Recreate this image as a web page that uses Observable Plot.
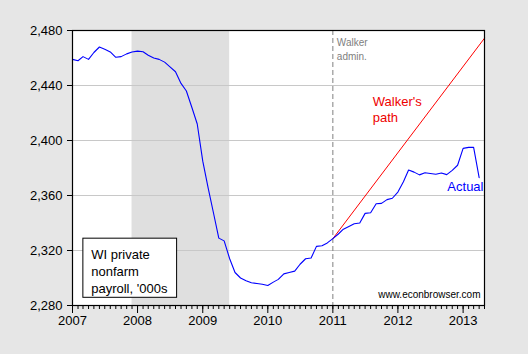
<!DOCTYPE html>
<html><head><meta charset="utf-8">
<script src="https://cdn.jsdelivr.net/npm/d3@7"></script>
<script src="https://cdn.jsdelivr.net/npm/@observablehq/plot@0.6"></script>
<style>
body{margin:0;background:#e6e6e6;}
#chart svg{display:block;}
</style>
</head><body><div id="chart"></div>
<script>
// ---- data ----
const startMonth = "2007-01";
const actual = [
  2459, 2458, 2461, 2459, 2464, 2468, 2466.4, 2464.4, 2460.5, 2461, 2463, 2464.4,
  2465, 2464.5, 2462, 2460, 2459, 2457, 2453.5, 2450, 2441.5, 2436, 2424, 2412,
  2385, 2365, 2348, 2329, 2327, 2314, 2304, 2300, 2298, 2296.5, 2296, 2295.5,
  2294.5, 2297, 2299, 2303, 2304, 2305, 2310, 2314, 2314.5, 2323, 2323.5, 2325.5,
  2328.6, 2332, 2335.5, 2337.5, 2339.5, 2340, 2347, 2347.5, 2354, 2354.3, 2357, 2358,
  2362.5, 2370, 2378.5, 2377, 2375, 2376.5, 2376, 2375.5, 2376.4, 2375.2, 2378.3, 2382,
  2394.3, 2395, 2395, 2373
];
const walkerDates = ["2011-01", "2013-05"];
const walkerValues = [2328.6, 2474.4];
const recession = ["2007-12", "2009-06"];
const walkerStart = "2011-01";
const yTicks = [2280, 2320, 2360, 2400, 2440, 2480];
const gridValues = [2320, 2360, 2400, 2440];
const yearTicks = ["2007", "2008", "2009", "2010", "2011", "2012", "2013"];
const xDomain = ["2007-01", "2013-05"];

// ---- build ----
const pm = d3.utcParse("%Y-%m");
const py = d3.utcParse("%Y");
const pd = d3.utcParse("%Y-%m-%d");
const start = pm(startMonth);
const actualData = actual.map((v, i) => ({date: d3.utcMonth.offset(start, i), value: v}));
const walkerData = walkerDates.map((d, i) => ({date: pm(d), value: walkerValues[i]}));
const years = yearTicks.map(py);
const months = d3.utcMonth.range(pm(xDomain[0]), d3.utcMonth.offset(pm(xDomain[1]), 1));
const fmt = d3.format(",");

const chart = Plot.plot({
  width: 528,
  height: 354,
  marginLeft: 72,
  marginRight: 44,
  marginTop: 30,
  marginBottom: 49,
  style: {fontFamily: "'Liberation Sans', Arial, sans-serif", fontSize: "13px", background: "#e6e6e6", color: "black"},
  x: {type: "utc", domain: xDomain.map(pm)},
  y: {domain: [yTicks[0], yTicks[yTicks.length - 1]]},
  marks: [
    Plot.frame({fill: "white", stroke: null}),
    Plot.rect([recession], {x1: d => pm(d[0]), x2: d => pm(d[1]), y1: yTicks[0], y2: yTicks[yTicks.length - 1], fill: "#dfdfdf"}),
    Plot.ruleY(gridValues, {stroke: "#c8c8c8", strokeWidth: 1}),
    Plot.ruleX([pm(walkerStart)], {stroke: "#808080", strokeDasharray: "5,3", strokeWidth: 1}),
    Plot.line(walkerData, {x: "date", y: "value", stroke: "#ff0000", strokeWidth: 1}),
    Plot.line(actualData, {x: "date", y: "value", stroke: "#0000ff", strokeWidth: 1.1}),
    // legend box
    Plot.rect([0], {x1: pd("2007-03-03"), x2: pd("2008-08-10"), y1: 2285.6, y2: 2328.6, fill: "white", stroke: "black", strokeWidth: 1}),
    Plot.text(["WI private\nnonfarm\npayroll, '000s"], {x: pd("2007-04-16"), y: 2322.5, text: d => d, textAnchor: "start", lineAnchor: "top", lineHeight: 1.3, fontSize: 13, fill: "black"}),
    // annotations
    Plot.text(["Walker\nadmin."], {x: pm(walkerStart), frameAnchor: "top", text: d => d, dx: 4, dy: 6, textAnchor: "start", lineAnchor: "top", lineHeight: 1.4, fontSize: 10, fill: "#808080", style: "letter-spacing:1px"}),
    Plot.text(["Walker's\npath"], {x: pd("2011-08-13"), y: 2433, text: d => d, textAnchor: "start", lineAnchor: "top", lineHeight: 1.2, fontSize: 13, fill: "#ee0000"}),
    Plot.text(["Actual"], {x: pm(xDomain[1]), y: 2369.8, text: d => d, dx: -1, textAnchor: "end", lineAnchor: "top", fontSize: 13, fill: "#0000ff"}),
    Plot.text(["www.econbrowser.com"], {x: pm(xDomain[1]), frameAnchor: "bottom", text: d => d, dx: -4, dy: -8, textAnchor: "end", lineAnchor: "bottom", fontSize: 10, fill: "black", style: "letter-spacing:0.8px"}),
    Plot.frame({stroke: "black", strokeWidth: 1.2}),
    // axes
    Plot.axisY({ticks: yTicks, tickFormat: fmt, tickSize: 5, tickPadding: 5, label: null, stroke: "black", fill: "black", fontSize: 13}),
    Plot.axisX({ticks: months, tickFormat: () => "", tickSize: 4, label: null, stroke: "black"}),
    Plot.axisX({ticks: years, tickFormat: d3.utcFormat("%Y"), tickSize: 8, tickPadding: 2, label: null, stroke: "black", fill: "black", fontSize: 13})
  ]
});
document.getElementById("chart").appendChild(chart);
</script>
</body></html>
